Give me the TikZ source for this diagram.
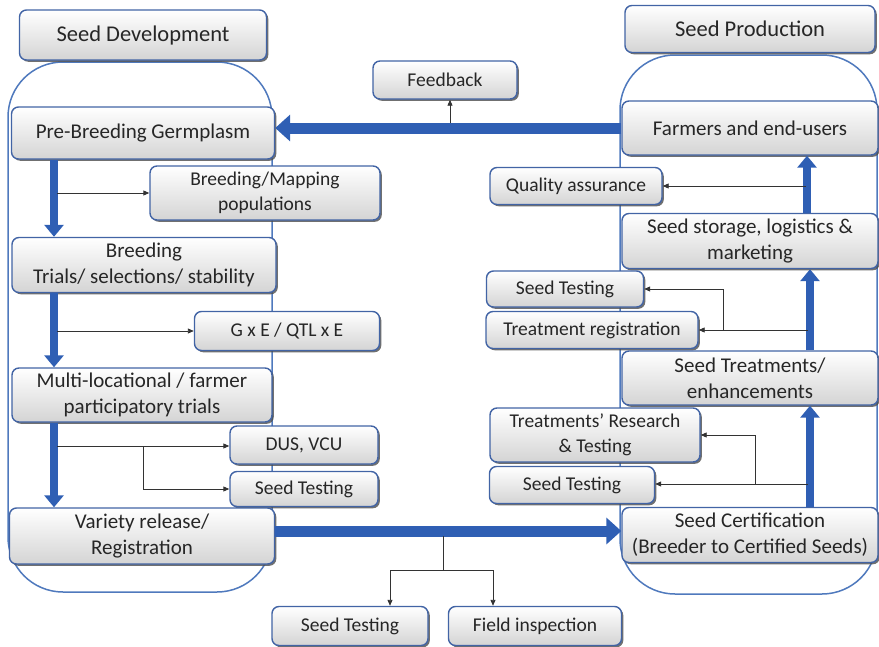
\documentclass[tikz,border=0pt]{standalone}
\usepackage{fontspec}
\setmainfont{Carlito}
\usetikzlibrary{arrows.meta, positioning, shadows}

\definecolor{boxline}{RGB}{66,100,165}
\definecolor{boxgray}{RGB}{212,212,212}
\definecolor{frameblue}{RGB}{79,121,189}
\definecolor{flowblue}{RGB}{47,95,180}

\begin{document}
\begin{tikzpicture}[
    x=1pt, y=-1pt,
    box/.style      = {rectangle, draw=boxline, line width=1.4pt, rounded corners=7pt,
                       top color=white, bottom color=boxgray, text=black!85,
                       drop shadow={shadow xshift=1.8pt, shadow yshift=-1.8pt,
                                    fill=black!70, opacity=0.8},
                       align=center, inner sep=2pt,
                       font=\fontsize{21}{26}\selectfont},
    sidebox/.style  = {box, font=\fontsize{19.5}{25}\selectfont},
    titlebox/.style = {box, font=\fontsize{22.5}{27}\selectfont},
    frame/.style    = {draw=frameblue, line width=1.5pt, rounded corners=55pt},
    flowbig/.style  = {draw=flowblue, line width=11pt,
                       -{Triangle[length=15pt, width=26pt]}},
    flow/.style     = {draw=flowblue, line width=8pt,
                       -{Triangle[length=12pt, width=19pt]}},
    tap/.style      = {draw=black!80, line width=0.9pt,
                       -{Triangle[length=6pt, width=5pt]}}
]
\useasboundingbox (0,0) rectangle (879,646);

% =====================
% Stage frames
% =====================

\draw[frame] (8,62) rectangle (272,592);
\draw[frame] (620,55) rectangle (877,594);

% =====================
% Seed development (left)
% =====================

\node[titlebox, minimum width=247pt, minimum height=50pt] (dev) at (143,35) {Seed Development};

\node[box, minimum width=263pt, minimum height=52pt] (pre) at (143,133) {Pre-Breeding Germplasm};
\node[sidebox, minimum width=230pt, minimum height=54pt] (bmap) at (265,193) {Breeding/Mapping\\ populations};
\node[box, minimum width=264pt, minimum height=55pt] (breed) at (144,265) {Breeding\\ Trials/ selections/ stability};
\node[sidebox, minimum width=185pt, minimum height=39pt] (gxe) at (287,331) {G x E / QTL x E};
\node[box, minimum width=260pt, minimum height=54pt] (multi) at (142,395) {Multi-locational / farmer\\ participatory trials};
\node[sidebox, minimum width=148pt, minimum height=38pt] (dus) at (304,445) {DUS, VCU};
\node[sidebox, minimum width=148pt, minimum height=35pt] (stleft) at (304,489) {Seed Testing};
\node[box, minimum width=265pt, minimum height=56pt] (variety) at (142,536) {Variety release/\\ Registration};

% Checks after release
\node[sidebox, minimum width=156pt, minimum height=39pt] (stbottom) at (350,626) {Seed Testing};
\node[sidebox, minimum width=173pt, minimum height=39pt] (field) at (535,626) {Field inspection};

% =====================
% Seed production (right)
% =====================

\node[titlebox, minimum width=250pt, minimum height=47pt] (prod) at (750,29) {Seed Production};

\node[sidebox, minimum width=144pt, minimum height=38pt] (feed) at (445,80) {Feedback};
\node[box, minimum width=256pt, minimum height=54pt] (farm) at (750,128) {Farmers and end-users};
\node[sidebox, minimum width=172pt, minimum height=37pt] (qa) at (576,186) {Quality assurance};
\node[box, minimum width=256pt, minimum height=55pt] (store) at (750,241) {Seed storage, logistics \&\\ marketing};
\node[sidebox, minimum width=157pt, minimum height=36pt] (stright) at (565,289) {Seed Testing};
\node[sidebox, minimum width=212pt, minimum height=37pt] (treg) at (592,330) {Treatment registration};
\node[box, minimum width=256pt, minimum height=54pt] (treat) at (750,378) {Seed Treatments/\\ enhancements};
\node[sidebox, minimum width=210pt, minimum height=54pt] (tres) at (595,435) {Treatments' Research\\ \& Testing};
\node[sidebox, minimum width=165pt, minimum height=37pt] (stcert) at (572,485) {Seed Testing};
\node[box, minimum width=256pt, minimum height=55pt] (cert) at (750,535) {Seed Certification\\ (Breeder to Certified Seeds)};

% ====================================
% Main flow (thick arrows)
% ====================================

\draw[flow] ([xshift=-89pt]pre.south) -- ([xshift=-90pt]breed.north);
\draw[flow] ([xshift=-90pt]breed.south) -- ([xshift=-88pt]multi.north);
\draw[flow] ([xshift=-88pt]multi.south) -- ([xshift=-88pt]variety.north);

\draw[flowbig] ([yshift=5pt]variety.east) -- ([yshift=5pt]variety.east -| cert.west);

\draw[flow] ([xshift=60pt]cert.north) -- ([xshift=60pt]treat.south);
\draw[flow] ([xshift=60pt]treat.north) -- ([xshift=60pt]store.south);
\draw[flow] ([xshift=57pt]store.north) -- ([xshift=57pt]farm.south);

\draw[flowbig] (farm.west) -- (farm.west -| pre.east);

% ====================================
% Side checks (thin arrows)
% ====================================

\coordinate (tapbmap) at (57,193);
\coordinate (tapgxe)  at (57,331);
\coordinate (tapdus)  at (57,446);
\coordinate (splitdus) at (143,446);

\draw[tap] (tapbmap) -- (tapbmap -| bmap.west);
\draw[tap] (tapgxe) -- (tapgxe -| gxe.west);
\draw[tap] (tapdus) -- (tapdus -| dus.west);
\draw[tap] (splitdus) |- (stleft.west);

% release -> seed testing / field inspection
\coordinate (tapbot)   at (443,536);
\coordinate (splitbot) at (443,570);
\draw[tap] (tapbot) -- (splitbot) -| ([xshift=40pt]stbottom.north);
\draw[tap] (splitbot) -| ([xshift=-42pt]field.north);

% feedback from the users' return line
\coordinate (tapfeed) at (450,123);
\draw[tap] (tapfeed) -- (tapfeed |- feed.south);

\coordinate (tapqa)     at (806,186);
\coordinate (taptreg)   at (808,330);
\coordinate (splittreg) at (723,330);
\coordinate (tapst)     at (808,484);
\coordinate (splitst)   at (755,484);

\draw[tap] (tapqa) -- (tapqa -| qa.east);
\draw[tap] (taptreg) -- (taptreg -| treg.east);
\draw[tap] (splittreg) |- (stright.east);
\draw[tap] (tapst) -- (tapst -| stcert.east);
\draw[tap] (splitst) |- (tres.east);

\end{tikzpicture}
\end{document}
